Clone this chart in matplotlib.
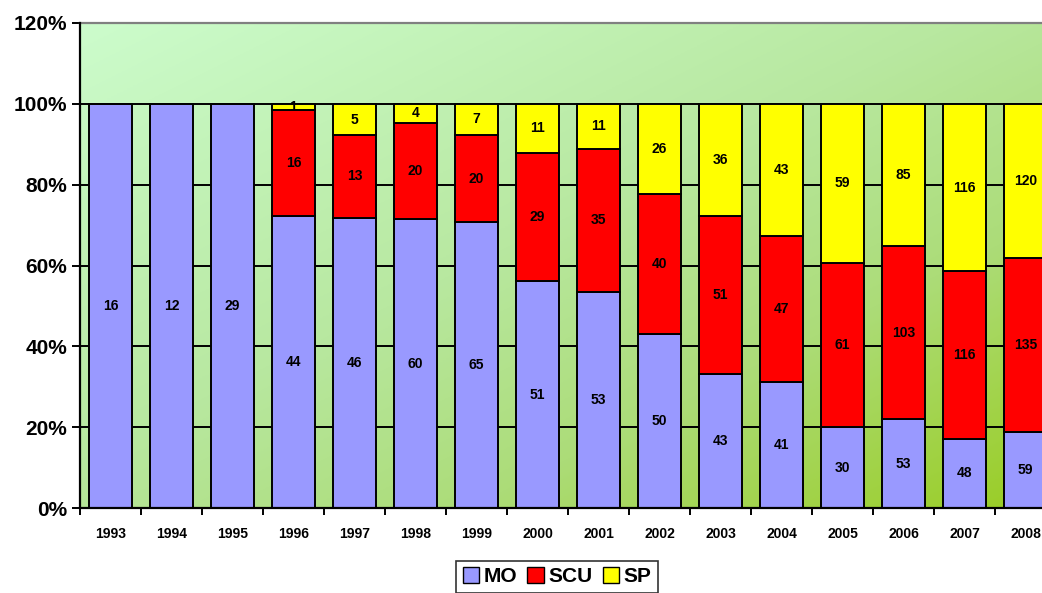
import numpy as np
import matplotlib
matplotlib.use("Agg")
import matplotlib.pyplot as plt
from matplotlib.patches import Patch
from matplotlib.colors import LinearSegmentedColormap

years = ["1993", "1994", "1995", "1996", "1997", "1998", "1999", "2000",
         "2001", "2002", "2003", "2004", "2005", "2006", "2007", "2008"]
mo = [16, 12, 29, 44, 46, 60, 65, 51, 53, 50, 43, 41, 30, 53, 48, 59]
scu = [0, 0, 0, 16, 13, 20, 20, 29, 35, 40, 51, 47, 61, 103, 116, 135]
sp = [0, 0, 0, 1, 5, 4, 7, 11, 11, 26, 36, 43, 59, 85, 116, 120]
series_names = ["MO", "SCU", "SP"]
series_colors = ["#9999ff", "#ff0000", "#ffff00"]

plt.rcParams['font.family'] = ['Liberation Sans', 'DejaVu Sans']

W, H = 1042, 593
fig = plt.figure(figsize=(W / 100, H / 100), dpi=100)
left, right, top, bottom = 80, 1056, 23, 508
ax = fig.add_axes([left / W, (H - bottom) / H, (right - left) / W, (bottom - top) / H])

n = len(years)
x = np.arange(n)
ax.set_xlim(-0.5, n - 0.5)
ax.set_ylim(0, 1.2)

# gradient background (light top-left -> yellow-green bottom-right)
gx, gy = np.meshgrid(np.linspace(0, 1, 300), np.linspace(0, 1, 300))
t = np.clip(0.5 * gx + 0.5 * gy, 0, 1)
cmap = LinearSegmentedColormap.from_list(
    "bg", [(0.0, "#ccfccc"), (0.45, "#b8e8a0"), (0.7, "#acdc78"), (1.0, "#99cc22")])
ax.imshow(t, cmap=cmap, extent=(-0.5, n - 0.5, 0, 1.2), origin='upper', aspect='auto',
          zorder=0, interpolation='bilinear', vmin=0, vmax=1)

# grid
for yv in [0.2, 0.4, 0.6, 0.8, 1.0]:
    ax.axhline(yv, color='black', lw=1.4, zorder=1)

tot = np.array(mo) + np.array(scu) + np.array(sp)
data = [np.array(mo), np.array(scu), np.array(sp)]
base = np.zeros(n)
width = 0.70
for vals, col in zip(data, series_colors):
    frac = vals / tot
    ax.bar(x, frac, width, bottom=base, color=col, edgecolor='black', lw=1.4, zorder=2)
    for i in range(n):
        if vals[i] > 0:
            ax.text(x[i], base[i] + frac[i] / 2, str(vals[i]), ha='center', va='center',
                    fontsize=10, fontweight='bold', zorder=3)
    base = base + frac

ax.set_yticks([0, 0.2, 0.4, 0.6, 0.8, 1.0, 1.2])
ax.set_yticklabels(["0%", "20%", "40%", "60%", "80%", "100%", "120%"],
                   fontsize=15, fontweight='bold')
ax.set_xticks(x)
ax.set_xticklabels(years, fontsize=10, fontweight='bold')
ax.set_xticks(np.arange(n + 1) - 0.5, minor=True)
ax.tick_params(axis='x', which='major', length=0, pad=14)
ax.tick_params(axis='x', which='minor', length=5, width=1.4, direction='out')
ax.tick_params(axis='y', length=6, width=1.4, direction='out', pad=3)

for s in ['left', 'bottom']:
    ax.spines[s].set_linewidth(1.6)
    ax.spines[s].set_zorder(4)
ax.spines['top'].set_color('#808080')
ax.spines['top'].set_linewidth(1.6)
ax.spines['right'].set_visible(False)

handles = [Patch(facecolor=c, edgecolor='black', label=l) for c, l in zip(series_colors, series_names)]
leg = fig.legend(handles=handles, loc='upper center', bbox_to_anchor=(557 / W, 1 - 561 / H),
                 ncol=3, frameon=True, fancybox=False, edgecolor='black',
                 prop={'weight': 'bold', 'size': 15}, handlelength=0.8, handleheight=0.8,
                 handletextpad=0.2, columnspacing=0.5, borderpad=0.3, borderaxespad=0)
leg.get_frame().set_linewidth(1.2)

fig.savefig("out.png", dpi=100)
